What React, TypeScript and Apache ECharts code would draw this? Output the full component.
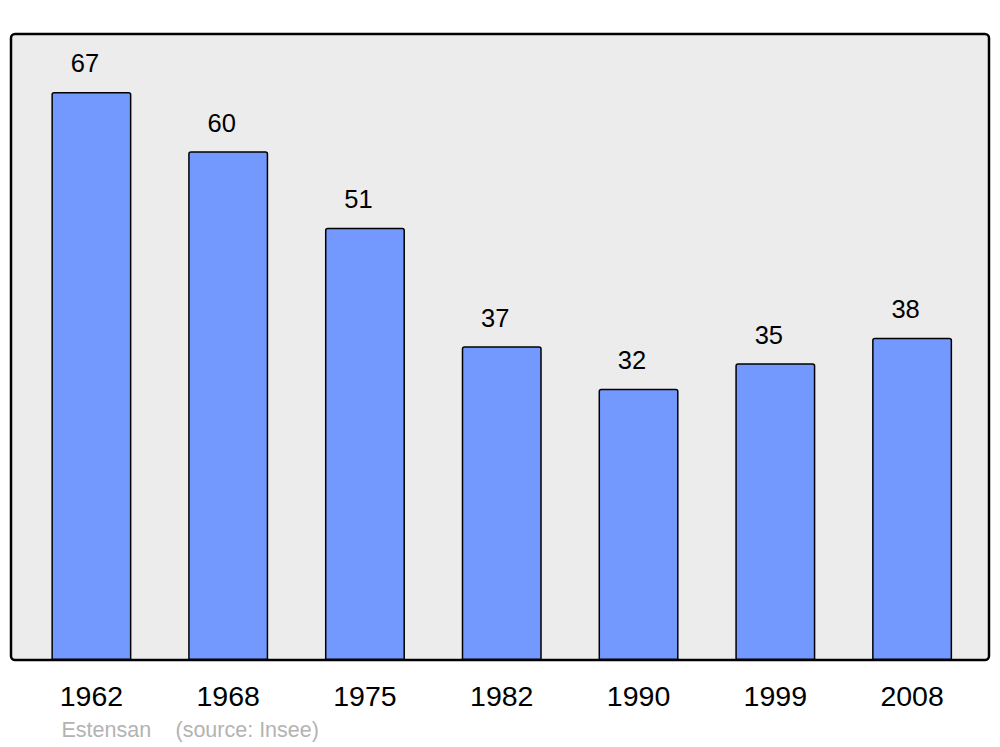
import React, { useEffect, useRef } from "react";
import * as echarts from "echarts";

const categories = ["1962", "1968", "1975", "1982", "1990", "1999", "2008"];
const population = [67, 60, 51, 37, 32, 35, 38];
const footerName = "Estensan";
const footerSource = "(source: Insee)";

const FONT = "'Liberation Sans', Arial, sans-serif";

export default function App() {
  const ref = useRef<HTMLDivElement>(null);
  useEffect(() => {
    if (!ref.current) return;
    const chart = echarts.init(ref.current, null, { renderer: "svg" });
    chart.setOption({
      animation: false,
      backgroundColor: "#ffffff",
      grid: { left: 23, right: 19.5, top: 34, bottom: 87 },
      xAxis: {
        type: "category",
        data: categories,
        axisLine: { show: false },
        axisTick: { show: false },
        axisLabel: { fontSize: 28.5, color: "#000", margin: 21, fontFamily: FONT },
      },
      yAxis: { type: "value", min: 0, max: 73.84, show: false },
      series: [
        {
          type: "bar",
          data: population,
          barWidth: 80,
          z: 3,
          itemStyle: {
            color: "#7399ff",
            borderColor: "#000",
            borderWidth: 1.5,
            borderRadius: [2, 2, 0, 0],
          },
          label: {
            show: true,
            position: "top",
            distance: 15.5,
            offset: [-6.5, 0],
            fontSize: 25.5,
            color: "#000",
            fontFamily: FONT,
          },
        },
      ],
      graphic: [
        {
          type: "rect",
          z: -10,
          shape: { x: 11, y: 34, width: 978, height: 626, r: 4 },
          style: { fill: "#ececec", stroke: "#000", lineWidth: 2.5 },
        },
        {
          type: "text",
          x: 61.5,
          y: 730,
          style: { text: footerName, font: `21.5px ${FONT}`, fill: "#b3b3b3", verticalAlign: "middle" },
        },
        {
          type: "text",
          x: 175.5,
          y: 730,
          style: { text: footerSource, font: `21.5px ${FONT}`, fill: "#b3b3b3", verticalAlign: "middle" },
        },
      ],
    });
    return () => chart.dispose();
  }, []);
  return (
    <div
      ref={ref}
      style={{ position: "absolute", left: 0, top: 0, width: 1000, height: 747 }}
    />
  );
}
